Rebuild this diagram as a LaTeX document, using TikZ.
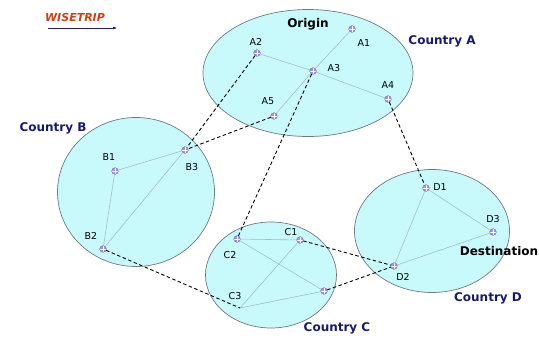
\documentclass[tikz,border=0pt]{standalone}
\usepackage{fontspec}
\setmainfont{DejaVu Sans}
\usetikzlibrary{arrows.meta,shapes.geometric}
\definecolor{regionfill}{RGB}{200,250,252}
\definecolor{regionline}{RGB}{110,120,125}
\definecolor{linkgray}{RGB}{165,190,195}
\definecolor{markfill}{RGB}{170,145,230}
\definecolor{navytext}{RGB}{25,25,110}
\definecolor{wisecol}{RGB}{205,65,20}
\definecolor{arrowcol}{RGB}{30,30,90}
\begin{document}
\begin{tikzpicture}[x=1pt,y=-1pt,
  region/.style={ellipse, draw=regionline, fill=regionfill, line width=0.7pt, inner sep=0pt},
  link/.style={draw=linkgray, line width=0.6pt},
  route/.style={draw=black, line width=0.9pt, dash pattern=on 3.5pt off 2.5pt},
  city/.style={circle, fill=markfill, draw=markfill!75!black, line width=0.3pt, inner sep=0pt, minimum size=6.5pt,
    path picture={\draw[white, line width=0.6pt]
      (path picture bounding box.north) -- (path picture bounding box.south)
      (path picture bounding box.west) -- (path picture bounding box.east);}},
  lbl/.style={font=\fontsize{9.5}{10}\selectfont, text=black, inner sep=0pt},
  country/.style={font=\bfseries\fontsize{12}{13}\selectfont, text=navytext, inner sep=0pt},
  place/.style={font=\bfseries\fontsize{12}{13}\selectfont, text=black, inner sep=0pt}]
\useasboundingbox (0,0) rectangle (539,338);
% regions
\node[region, minimum width=210pt, minimum height=127pt] (regA) at (308,73) {};
\node[region, minimum width=157pt, minimum height=149pt] (regB) at (136,192) {};
\node[region, minimum width=131pt, minimum height=106pt] (regC) at (271,275) {};
\node[region, minimum width=155pt, minimum height=123pt] (regD) at (432,231) {};
% cities
\node[city] (A1) at (352,29) {};
\node[city] (A2) at (257,53) {};
\node[city] (A3) at (313,71) {};
\node[city] (A4) at (388,99) {};
\node[city] (A5) at (274,116) {};
\node[city] (B1) at (115,171) {};
\node[city] (B2) at (103,249) {};
\node[city] (B3) at (185,150) {};
\node[city] (C1) at (300,240) {};
\node[city] (C2) at (237,239) {};
\coordinate (C3) at (240,308);
\node[city] (C4) at (324,291) {};
\node[city] (D1) at (426,188) {};
\node[city] (D2) at (394,266) {};
\node[city] (D3) at (493,232) {};
% links inside countries
\draw[link] (A1) -- (A3) -- (A5);
\draw[link] (A2) -- (A3) -- (A4);
\draw[link] (B1) -- (B3);
\draw[link] (B1) -- (B2);
\draw[link] (B2) -- (B3);
\draw[link] (C2) -- (C1);
\draw[link] (C2) -- (C4);
\draw[link] (C1) -- (C3);
\draw[link] (C3) -- (C4);
\draw[link] (D1) -- (D3);
\draw[link] (D1) -- (D2);
\draw[link] (D2) -- (D3);
% routes between countries
\draw[route] (A2) -- (B3);
\draw[route] (A5) -- (B3);
\draw[route] (A3) -- (C2);
\draw[route] (A4) -- (D1);
\draw[route] (B2) -- (C3);
\draw[route] (C1) -- (D2);
\draw[route] (C4) -- (D2);
% redraw markers on top
\foreach \c in {A1,A2,A3,A4,A5,B1,B2,B3,C1,C2,C4,D1,D2,D3}{
  \node[city] at (\c) {};
}
% labels
\node[lbl] (lA1) at (364,43) {A1};
\node[lbl] (lA2) at (256,42) {A2};
\node[lbl] (lA3) at (334,68) {A3};
\node[lbl] (lA4) at (388,85) {A4};
\node[lbl] (lA5) at (268,101) {A5};
\node[lbl] (lB1) at (109,157) {B1};
\node[lbl] (lB2) at (91,236) {B2};
\node[lbl] (lB3) at (192,167) {B3};
\node[lbl] (lC1) at (291,232) {C1};
\node[lbl] (lC2) at (230,255) {C2};
\node[lbl] (lC3) at (235,296) {C3};
\node[lbl] (lD1) at (440,187) {D1};
\node[lbl] (lD2) at (403,277) {D2};
\node[lbl] (lD3) at (493,219) {D3};
\node[place] (orig) at (308,24) {Origin};
\node[place] (dest) at (499,251) {Destination};
\node[country] (cA) at (442,41) {Country A};
\node[country] (cB) at (53,128) {Country B};
\node[country] (cC) at (337,328) {Country C};
\node[country] (cD) at (488,298) {Country D};
% WISETRIP legend
\node[font=\bfseries\itshape\fontsize{11}{12}\selectfont, text=wisecol, inner sep=0pt] (wise) at (75,17) {WISETRIP};
\coordinate (ws) at (48,28);
\coordinate (we) at (117,28);
\draw[arrowcol, line width=0.5pt, -{Latex[length=4pt,width=3pt]}] (ws) -- (we);
\end{tikzpicture}
\end{document}
